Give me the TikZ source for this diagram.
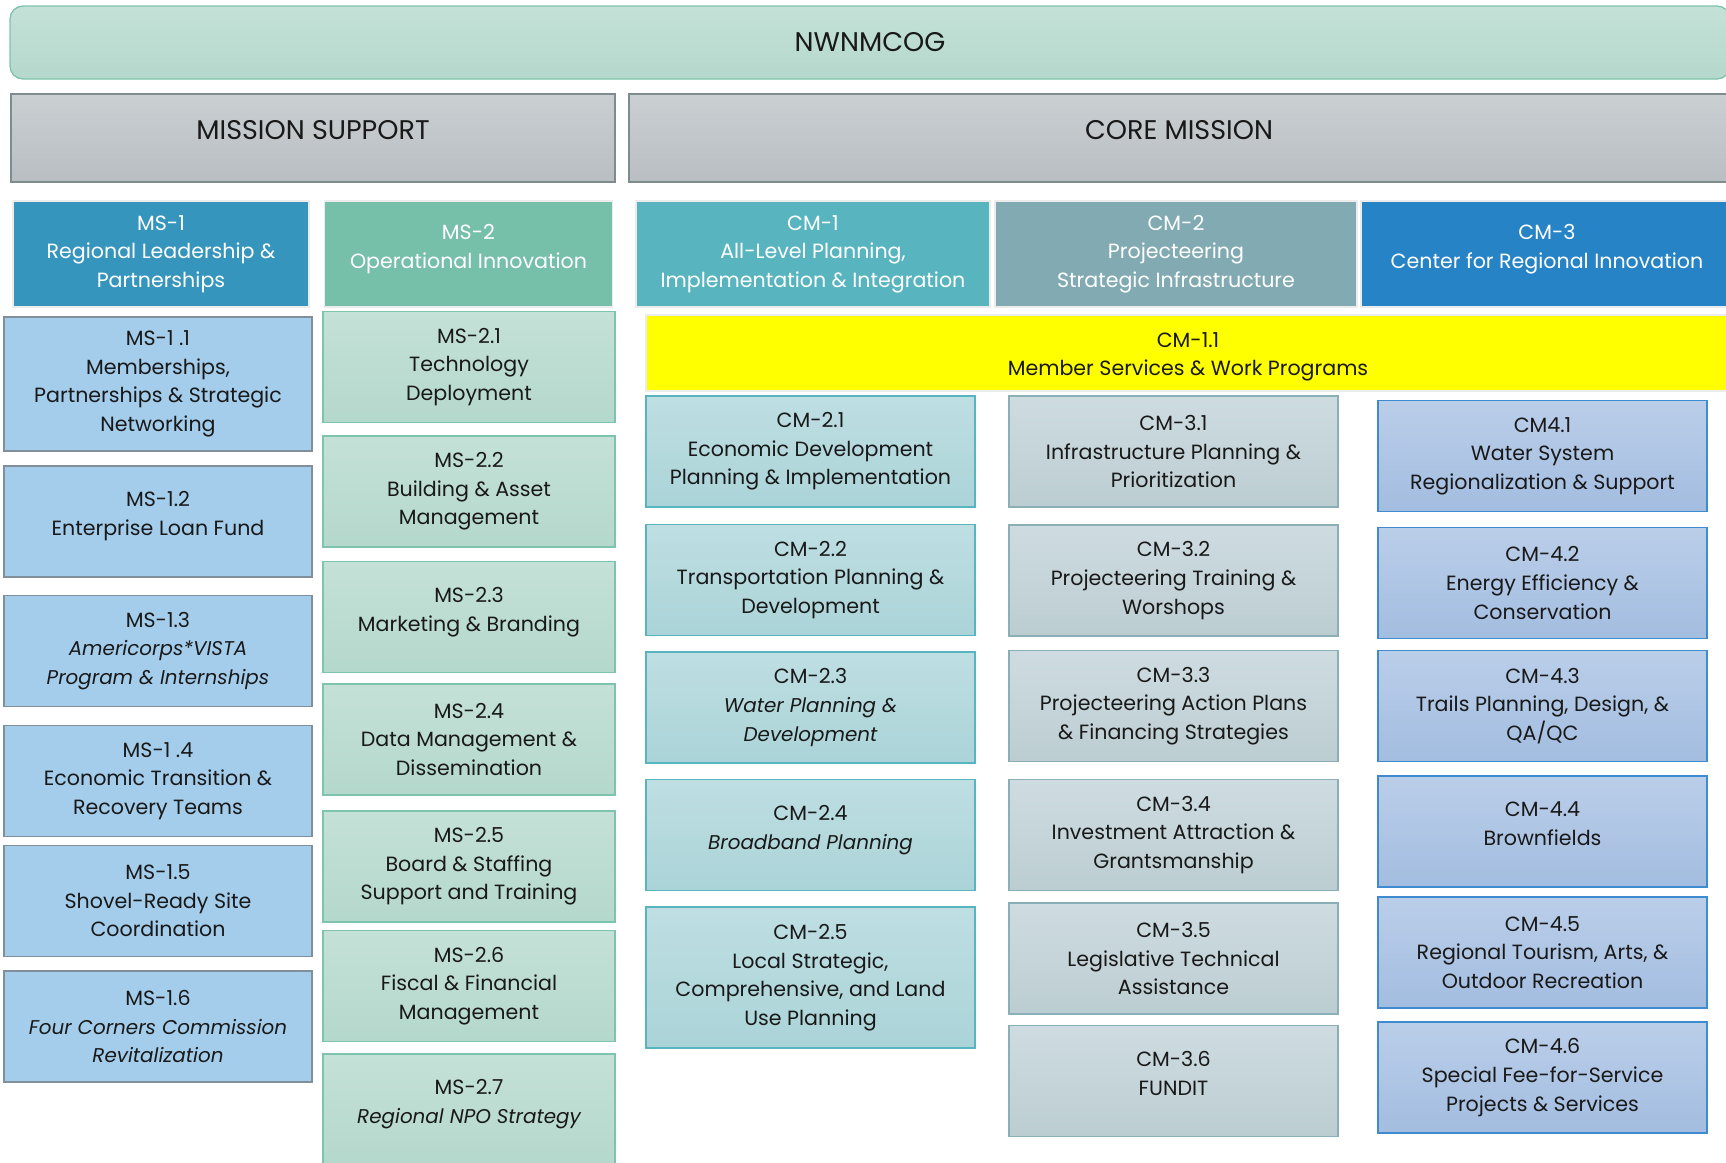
\documentclass[tikz,border=0pt]{standalone}
\usepackage{fontspec}
\setmainfont{Poppins}
\definecolor{topbar}{RGB}{196,225,215}
\definecolor{topbarlo}{RGB}{181,216,204}
\definecolor{topline}{RGB}{126,196,170}
\definecolor{grayhi}{RGB}{202,207,210}
\definecolor{graylo}{RGB}{184,190,193}
\definecolor{grayline}{RGB}{127,140,141}
\definecolor{msone}{RGB}{53,149,189}
\definecolor{mstwo}{RGB}{118,191,168}
\definecolor{cmone}{RGB}{88,181,192}
\definecolor{cmtwo}{RGB}{130,170,178}
\definecolor{cmthree}{RGB}{38,131,198}
\definecolor{hilite}{RGB}{255,255,0}
\definecolor{msonesub}{RGB}{164,205,236}
\definecolor{msoneline}{RGB}{128,143,153}
\definecolor{cmtwohi}{RGB}{190,222,226}
\definecolor{cmtwolo}{RGB}{171,212,216}
\definecolor{cmthreehi}{RGB}{206,220,225}
\definecolor{cmthreelo}{RGB}{188,205,210}
\definecolor{cmthreeline}{RGB}{138,175,182}
\definecolor{cmfourhi}{RGB}{186,206,233}
\definecolor{cmfourlo}{RGB}{163,189,224}
\definecolor{cmfourline}{RGB}{63,139,208}
\definecolor{txt}{RGB}{25,25,25}
\newcommand\cellfont{\fontsize{20.6}{28.6}\selectfont}
\newcommand\headfont{\fontsize{27}{30}\selectfont}
% italic lines run a little narrower
\newcommand\slant[1]{{\fontsize{19.9}{28.6}\selectfont\itshape #1}}
% empty line under two-line texts, so they sit a bit high
\newcommand\padline{\\[-13pt]\mbox{}}

\begin{document}
\begin{tikzpicture}[x=1pt,y=-1pt,
    box/.style={rectangle,draw,line width=1.3pt,align=center,inner sep=0pt,
      font=\cellfont,text=txt,minimum height=111pt},
    band/.style={box,font=\headfont,top color=grayhi,bottom color=graylo,
      draw=grayline,minimum height=88pt,text height=10pt,text depth=7pt},
    head/.style={box,text=white,draw=white!85!gray,minimum height=106pt},
    msa/.style={box,fill=msonesub,draw=msoneline,minimum width=308pt},
    msb/.style={box,top color=topbar,bottom color=topbarlo,draw=topline,minimum width=292pt},
    cmb/.style={box,top color=cmtwohi,bottom color=cmtwolo,draw=cmone,minimum width=329pt},
    cmc/.style={box,top color=cmthreehi,bottom color=cmthreelo,draw=cmthreeline,minimum width=329pt},
    cmd/.style={box,top color=cmfourhi,bottom color=cmfourlo,draw=cmfourline,minimum width=329pt}]
  \clip (0,0) rectangle (1726,1162);

  % top of the chart
  \node[box,font=\headfont,top color=topbar,bottom color=topbarlo,draw=topline,
    rounded corners=13pt,minimum width=1720pt,minimum height=73pt] (cog) at (870,42.5) {NWNMCOG};
  \node[band,minimum width=604pt] (ms) at (313,138) {MISSION SUPPORT};
  \node[band,minimum width=1100pt] (cm) at (1179,138) {CORE MISSION};

  % programme heads
  \node[head,fill=msone,minimum width=296pt] (ms1) at (161,254) {MS-1\\Regional Leadership \&\\Partnerships};
  \node[head,fill=mstwo,minimum width=288pt] (ms2) at (468.5,254) {MS-2\\Operational Innovation\padline};
  \node[head,fill=cmone,minimum width=354pt] (cm1) at (813,254) {CM-1\\All-Level Planning,\\Implementation \& Integration};
  \node[head,fill=cmtwo,minimum width=362pt] (cm2) at (1176,254) {CM-2\\Projecteering\\Strategic Infrastructure};
  \node[head,fill=cmthree,minimum width=372pt] (cm3) at (1547,254) {CM-3\\Center for Regional Innovation\padline};
  \node[box,fill=hilite,draw=white!85!gray,minimum width=1084pt,minimum height=76pt] (cm11) at (1188,353) {\mbox{}\\[-6pt]CM-1.1\\Member Services \& Work Programs};

  % MS-1 column
  \node[msa,minimum height=134pt] (ms11) at (158,384) {MS-1 .1\\Memberships,\\Partnerships \& Strategic\\Networking};
  \node[msa] (ms12) at (158,521.5) {MS-1.2\\Enterprise Loan Fund\padline};
  \node[msa] (ms13) at (158,651) {MS-1.3\\\slant{Americorps*VISTA}\\\slant{Program \& Internships}};
  \node[msa] (ms14) at (158,781) {MS-1 .4\\Economic Transition \&\\Recovery Teams};
  \node[msa] (ms15) at (158,901) {MS-1.5\\Shovel-Ready Site\\Coordination};
  \node[msa] (ms16) at (158,1026.5) {MS-1.6\\\slant{Four Corners Commission}\\\slant{Revitalization}};

  % MS-2 column
  \node[msb] (ms21) at (469,367) {MS-2.1\\Technology\\Deployment};
  \node[msb] (ms22) at (469,491.5) {MS-2.2\\Building \& Asset\\Management};
  \node[msb] (ms23) at (469,617) {MS-2.3\\Marketing \& Branding\padline};
  \node[msb] (ms24) at (469,739.5) {MS-2.4\\Data Management \&\\Dissemination};
  \node[msb] (ms25) at (469,866.5) {MS-2.5\\Board \& Staffing\\Support and Training};
  \node[msb] (ms26) at (469,986) {MS-2.6\\Fiscal \& Financial\\Management};
  \node[msb] (ms27) at (469,1109.5) {MS-2.7\\\slant{Regional NPO Strategy}\padline};

  % CM-2.x column
  \node[cmb] (cm21) at (810.5,451.5) {CM-2.1\\Economic Development\\Planning \& Implementation};
  \node[cmb] (cm22) at (810.5,580) {CM-2.2\\Transportation Planning \&\\Development};
  \node[cmb] (cm23) at (810.5,707.5) {CM-2.3\\\slant{Water Planning \&}\\\slant{Development}};
  \node[cmb] (cm24) at (810.5,835) {CM-2.4\\\slant{Broadband Planning}\padline};
  \node[cmb,minimum height=141pt] (cm25) at (810.5,977.5) {CM-2.5\\Local Strategic,\\Comprehensive, and Land\\Use Planning};

  % CM-3.x column
  \node[cmc] (cm31) at (1173.5,451.5) {CM-3.1\\Infrastructure Planning \&\\Prioritization};
  \node[cmc] (cm32) at (1173.5,580.5) {CM-3.2\\Projecteering Training \&\\Worshops};
  \node[cmc] (cm33) at (1173.5,706) {CM-3.3\\Projecteering Action Plans\\\& Financing Strategies};
  \node[cmc] (cm34) at (1173.5,835) {CM-3.4\\Investment Attraction \&\\Grantsmanship};
  \node[cmc] (cm35) at (1173.5,958.5) {CM-3.5\\Legislative Technical\\Assistance};
  \node[cmc] (cm36) at (1173.5,1081) {CM-3.6\\FUNDIT\padline};

  % CM-4.x column
  \node[cmd] (cm41) at (1542.5,456) {CM4.1\\Water System\\Regionalization \& Support};
  \node[cmd] (cm42) at (1542.5,583) {CM-4.2\\Energy Efficiency \&\\Conservation};
  \node[cmd] (cm43) at (1542.5,706) {CM-4.3\\Trails Planning, Design, \&\\QA/QC};
  \node[cmd] (cm44) at (1542.5,831.5) {CM-4.4\\Brownfields\padline};
  \node[cmd] (cm45) at (1542.5,952.5) {CM-4.5\\Regional Tourism, Arts, \&\\Outdoor Recreation};
  \node[cmd] (cm46) at (1542.5,1077.5) {CM-4.6\\Special Fee-for-Service\\Projects \& Services};
\end{tikzpicture}
\end{document}
